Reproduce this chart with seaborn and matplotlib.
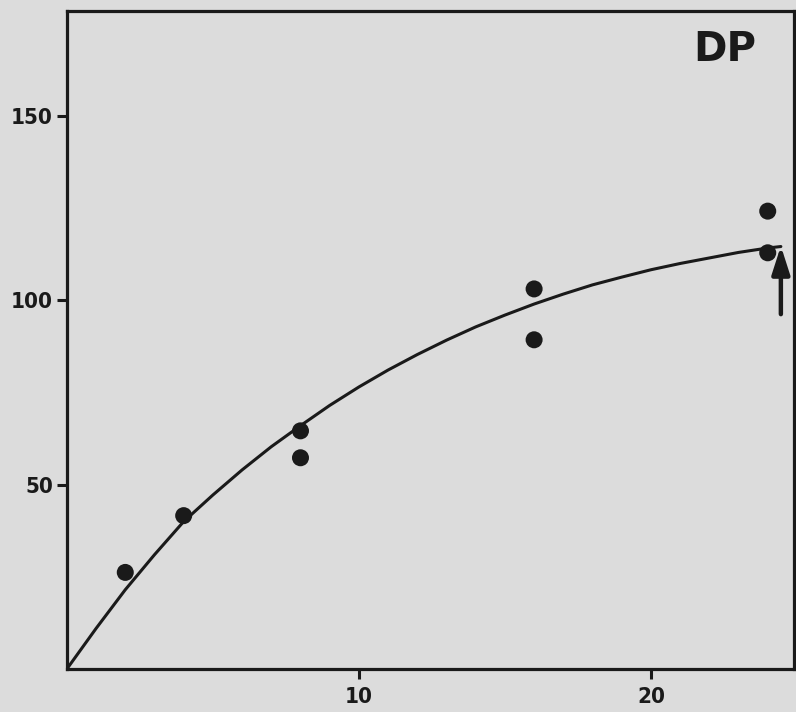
import numpy as np
import pandas as pd
import seaborn as sns
import matplotlib.pyplot as plt

# measured points (x, DP)
hours = [2, 4, 8, 8, 16, 16, 24, 24]
dp = [26.2, 41.6, 64.6, 57.3, 103.1, 89.3, 124.2, 112.9]

# fitted curve
curve_x = [0, 1, 2, 3, 4, 5, 6, 7, 8, 9, 10, 11, 12, 13, 14, 15, 16,
           17, 18, 19, 20, 21, 22, 23, 24, 24.45]
curve_y = [0, 11, 21.5, 31, 40, 47.2, 54, 60.3, 66, 71.5, 76.5, 81.1, 85.3,
           89.2, 92.8, 96, 99, 101.7, 104.2, 106.3, 108.3, 110, 111.5, 113,
           114.2, 114.6]

xticks = [10, 20]
yticks = [50, 100, 150]

sns.set_theme(style="ticks")
plt.rcParams['font.family'] = ['DejaVu Sans']
plt.rcParams['font.weight'] = 'bold'

bg = '#dcdcdc'
ink = '#1a1a1a'
fig = plt.figure(figsize=(7.96, 7.12), dpi=100, facecolor=bg)
ax = fig.add_axes([0.084, 0.0604, 0.9135, 0.9242])
ax.set_facecolor(bg)

pts = pd.DataFrame({'t': hours, 'dp': dp})
line = pd.DataFrame({'t': curve_x, 'dp': curve_y})

sns.lineplot(data=line, x='t', y='dp', ax=ax, color=ink, lw=2.2, sort=False)
sns.scatterplot(data=pts, x='t', y='dp', ax=ax, color=ink, s=150,
                edgecolor='none', zorder=3)

ax.annotate('', xy=(24.45, 115.5), xytext=(24.45, 95.5),
            arrowprops=dict(arrowstyle='-|>,head_width=0.45,head_length=1.4',
                            color=ink, lw=3.2))

ax.text(0.905, 0.94, 'DP', transform=ax.transAxes, ha='center', va='center',
        fontsize=29, fontweight='bold', color=ink)

ax.set_xlim(0, 24.9)
ax.set_ylim(0, 178.5)
ax.set_xticks(xticks)
ax.set_yticks(yticks)
ax.set_xticklabels([str(v) for v in xticks], fontsize=16, fontweight='bold',
                   fontstretch='condensed')
ax.set_yticklabels([str(v) for v in yticks], fontsize=16, fontweight='bold',
                   fontstretch='condensed')
ax.set_xlabel('')
ax.set_ylabel('')
ax.tick_params(axis='both', length=7, width=2.2, color=ink,
               labelcolor=ink, pad=3)
ax.tick_params(axis='x', pad=6)

for s in ax.spines.values():
    s.set_linewidth(2.3)
    s.set_color(ink)

fig.savefig('out.png', dpi=100, facecolor=bg)
